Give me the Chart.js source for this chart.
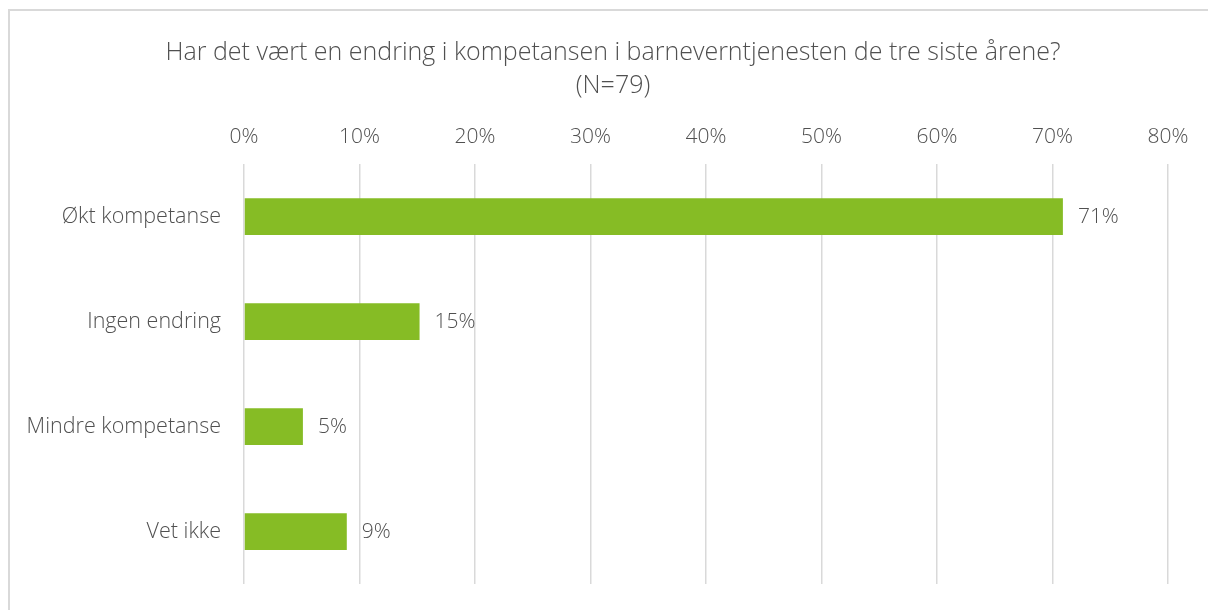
<!DOCTYPE html>
<html>
<head>
<meta charset="utf-8">
<script src="https://cdn.jsdelivr.net/npm/chart.js@4"></script>
<style>
  html, body { margin: 0; padding: 0; background: #fff; overflow: hidden; }
  #wrap { position: relative; width: 1208px; height: 610px; }
  #frame { position: absolute; left: 8px; top: 9px; width: 1210px; height: 610px;
           border: 2px solid #d9d9d9; box-sizing: border-box; }
  canvas { position: absolute; left: 0; top: 0; }
</style>
</head>
<body>
<div id="wrap">
  <div id="frame"></div>
  <canvas id="chart" width="1208" height="610"></canvas>
</div>
<script>
const categories = ['Økt kompetanse', 'Ingen endring', 'Mindre kompetanse', 'Vet ikke'];
const shares = [70.9, 15.2, 5.1, 8.9];
const titleLines = ['Har det vært en endring i kompetansen i barneverntjenesten de tre siste årene?', '(N=79)'];

const textColor = '#505050';
const fontFamily = '"Open Sans", Lato, sans-serif';

const barLabels = {
    id: 'barLabels',
    afterDatasetsDraw(chart) {
        const ctx = chart.ctx;
        const meta = chart.getDatasetMeta(0);
        ctx.save();
        ctx.fillStyle = textColor;
        ctx.font = '300 21px ' + fontFamily;
        ctx.textAlign = 'left';
        ctx.textBaseline = 'middle';
        meta.data.forEach((bar, i) => {
            ctx.fillText(Math.round(shares[i]) + '%', bar.x + 15, bar.y + 1);
        });
        ctx.restore();
    }
};

const ctx = document.getElementById('chart').getContext('2d');
new Chart(ctx, {
    type: 'bar',
    data: {
        labels: categories,
        datasets: [{
            data: shares,
            backgroundColor: '#86bc25',
            barPercentage: 0.7,
            categoryPercentage: 0.5
        }]
    },
    options: {
        indexAxis: 'y',
        responsive: false,
        animation: false,
        layout: { padding: { left: 18, right: 0, top: 0, bottom: 26 } },
        plugins: {
            legend: { display: false },
            tooltip: { enabled: false },
            title: {
                display: true,
                text: titleLines,
                color: textColor,
                font: { family: fontFamily, size: 25, weight: 300, lineHeight: 1.32 },
                padding: { top: 36, bottom: 0 }
            }
        },
        scales: {
            x: {
                position: 'top',
                min: 0,
                max: 80,
                afterFit(scale) {
                    scale.height = 62;
                    scale.paddingRight = 40;
                    scale.paddingLeft = 0;
                },
                ticks: {
                    stepSize: 10,
                    padding: 14,
                    color: textColor,
                    font: { family: fontFamily, size: 21, weight: 300 },
                    callback: v => v + '%'
                },
                grid: { color: '#d9d9d9', lineWidth: 1.5, drawTicks: false },
                border: { display: false }
            },
            y: {
                afterFit(scale) {
                    scale.width = 226;
                    scale.paddingTop = 0;
                    scale.paddingBottom = 0;
                },
                ticks: {
                    padding: 23,
                    color: textColor,
                    font: { family: fontFamily, size: 21.5, weight: 300 }
                },
                grid: { display: false, drawTicks: false },
                border: { display: false }
            }
        }
    },
    plugins: [barLabels]
});
</script>
</body>
</html>
